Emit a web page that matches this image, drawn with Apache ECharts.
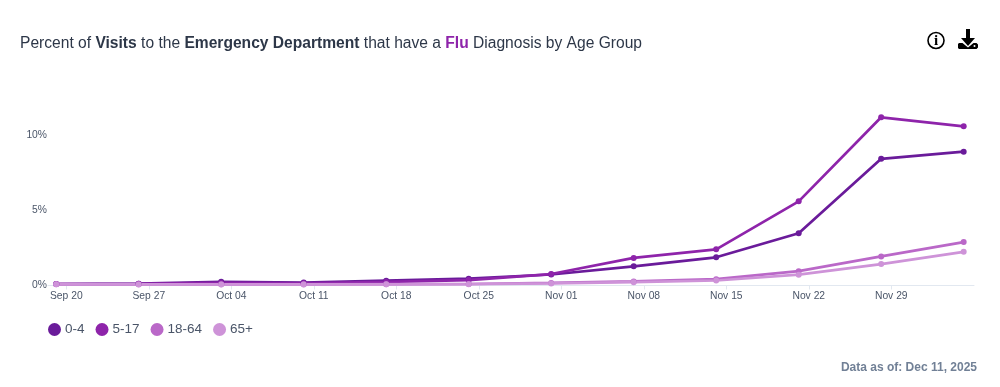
<!DOCTYPE html>
<html>
<head>
<meta charset="utf-8">
<style>html,body{margin:0;padding:0;background:#fff}#c{width:1000px;height:387px}</style>
<script src="https://cdn.jsdelivr.net/npm/echarts@6/dist/echarts.min.js"></script>
</head>
<body>
<div id="c"></div>
<script>
const weekLabels = ['Sep 20','Sep 27','Oct 04','Oct 11','Oct 18','Oct 25','Nov 01','Nov 08','Nov 15','Nov 22','Nov 29','Dec 06'];
const ageGroups = ['0-4','5-17','18-64','65+'];
const age0to4   = [0.10,0.12,0.25,0.20,0.32,0.45,0.73,1.27,1.87,3.46,8.40,8.87];
const age5to17  = [0.10,0.11,0.17,0.15,0.24,0.36,0.76,1.83,2.40,5.58,11.15,10.55];
const age18to64 = [0.09,0.08,0.08,0.08,0.09,0.10,0.17,0.27,0.42,0.95,1.93,2.88];
const age65plus = [0.08,0.07,0.07,0.07,0.08,0.09,0.14,0.22,0.33,0.72,1.42,2.23];
const yTicks = [0,5,10];
const colors = ['#6a1b9a','#8e24aa','#ba68c8','#ce93d8'];
const allSeries = [age0to4, age5to17, age18to64, age65plus];
const titleColor = '#2d3748', labelColor = '#4a5568';

// the source plots each weekly point slightly left of its date tick
const DAYS_PER_WEEK = 7, POINT_SHIFT = -0.857;
const tickDays = weekLabels.slice(0, 11).map((_, i) => i * DAYS_PER_WEEK);

const chart = echarts.init(document.getElementById('c'), null, {renderer:'canvas'});
chart.setOption({
  animation:false,
  backgroundColor:'#fff',
  textStyle:{fontFamily:'"Liberation Sans", Arial, sans-serif'},
  title:{
    left:20, top:36, padding:0,
    text:'{n|Percent of }{b|Visits}{n| to the }{b|Emergency Department}{n| that have a }{f|Flu}{n| Diagnosis by Age Group}',
    textStyle:{
      fontSize:15.6, fontWeight:'normal',
      rich:{
        n:{fontSize:15.6,color:titleColor,fontWeight:'normal',fontFamily:'"Liberation Sans"'},
        b:{fontSize:15.6,color:titleColor,fontWeight:'bold',fontFamily:'"Liberation Sans"'},
        f:{fontSize:15.6,color:'#8e24aa',fontWeight:'bold',fontFamily:'"Liberation Sans"'}
      }
    }
  },
  legend:{
    left:48, top:322.5, padding:0,
    data:ageGroups, icon:'circle', itemWidth:13, itemHeight:13, itemGap:11,
    textStyle:{fontSize:13.5,color:labelColor,padding:[0,0,0,-1]}
  },
  grid:{left:48, right:26, top:104.5, bottom:101.5},
  xAxis:{
    type:'value', min:-1.553, max:77.02,
    splitLine:{show:false},
    axisLine:{show:true,onZero:false,lineStyle:{color:'#e2e8f0',width:1}},
    axisTick:{show:true,length:4,lineStyle:{color:'#e2e8f0'},customValues:tickDays},
    axisLabel:{
      customValues:tickDays, color:labelColor, fontSize:10.3, margin:6, hideOverlap:false,
      formatter:v => weekLabels[Math.round(v / DAYS_PER_WEEK)]
    }
  },
  yAxis:{
    type:'value', min:0, max:12,
    splitLine:{show:false},
    axisLine:{show:false},
    axisTick:{show:false},
    axisLabel:{customValues:yTicks, color:labelColor, fontSize:10.3, margin:1, formatter:v => v + '%'}
  },
  series:ageGroups.map((name,i)=>({
    name, type:'line', smooth:false, symbol:'circle', symbolSize:6, showSymbol:true,
    clip:false,
    itemStyle:{color:colors[i]},
    lineStyle:{color:colors[i],width:2.7},
    data:allSeries[i].map((v,k)=>[k*DAYS_PER_WEEK+POINT_SHIFT,v])
  })),
  graphic:[
    {type:'circle',shape:{cx:936,cy:40.5,r:8},style:{fill:'none',stroke:'#000',lineWidth:1.6}},
    {type:'text',style:{x:936,y:41,text:'i',font:'bold 15px "Liberation Serif"',fill:'#000',align:'center',verticalAlign:'middle'}},
    {type:'polygon',shape:{points:[[966,29],[970,29],[970,38],[975,38],[968,46],[961,38],[966,38]]},style:{fill:'#000'}},
    {type:'polygon',shape:{points:[[959,43],[962.5,43],[968,47.5],[973.5,43],[976.5,43],[978,44.5],[978,47.5],[976.5,49],[959,49],[958,48],[958,44]]},style:{fill:'#000'}},
    {type:'circle',shape:{cx:974.5,cy:46,r:1},style:{fill:'#fff'}},
    {type:'text',style:{x:977,y:367.5,text:'Data as of: Dec 11, 2025',font:'bold 12px "Liberation Sans"',fill:'#718096',align:'right',verticalAlign:'middle'}}
  ]
});
</script>
</body>
</html>
